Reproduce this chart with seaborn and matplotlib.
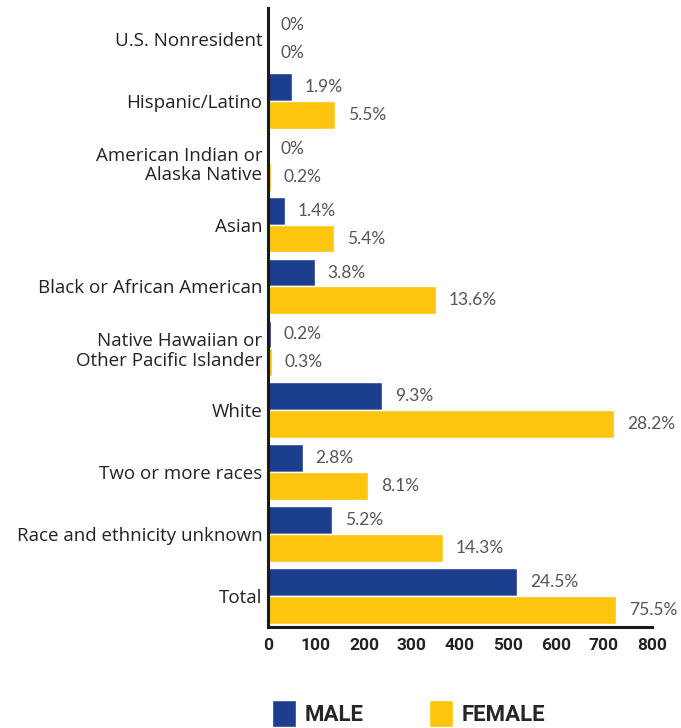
import matplotlib
matplotlib.use('Agg')
import matplotlib.pyplot as plt
from matplotlib.patches import Patch
import seaborn as sns
import pandas as pd

categories = ['U.S. Nonresident', 'Hispanic/Latino', 'American Indian or\nAlaska Native',
              'Asian', 'Black or African American', 'Native Hawaiian or\nOther Pacific Islander',
              'White', 'Two or more races', 'Race and ethnicity unknown', 'Total']
male = [0, 50, 0, 36, 98, 6, 238, 73, 134, 520]
female = [0, 140, 6, 138, 351, 8, 722, 209, 365, 726]
male_pct = ['0%', '1.9%', '0%', '1.4%', '3.8%', '0.2%', '9.3%', '2.8%', '5.2%', '24.5%']
female_pct = ['0%', '5.5%', '0.2%', '5.4%', '13.6%', '0.3%', '28.2%', '8.1%', '14.3%', '75.5%']
x_ticks = [0, 100, 200, 300, 400, 500, 600, 700, 800]

df = pd.DataFrame({
    'Group': categories * 2,
    'Count': male + female,
    'Sex': ['MALE'] * len(male) + ['FEMALE'] * len(female),
})

sns.set_style('white')
plt.rcParams['font.family'] = ['Open Sans', 'DejaVu Sans']

colors = {'MALE': '#1B3E8F', 'FEMALE': '#FEC50E'}

fig = plt.figure(figsize=(6.81, 7.28), dpi=100)
ax = fig.add_axes([0.3935, 0.139, 0.5635, 0.85])

sns.barplot(data=df, y='Group', x='Count', hue='Sex', palette=colors,
            width=0.9, orient='h', legend=False, ax=ax, saturation=1)

for cont, labels in zip(ax.containers, [male_pct, female_pct]):
    ax.bar_label(cont, labels=labels, padding=9, fontsize=12.5, color='#555555',
                 family=['Lato', 'DejaVu Sans'])

ax.set_xlim(0, 800)
ax.set_ylim(9.5, -0.5)
ax.set_xticks(x_ticks)
ax.set_xticklabels([str(t) for t in x_ticks], fontsize=12.5, fontweight='bold',
                   color='#222222', family=['Roboto', 'DejaVu Sans'])
ax.set_xlabel('')
ax.set_ylabel('')
ax.tick_params(axis='both', length=0)
ax.tick_params(axis='y', pad=4, labelsize=13.5, labelcolor='#222222')
ax.tick_params(axis='x', pad=8)
for lbl in ax.get_yticklabels():
    lbl.set_multialignment('right')
    lbl.set_linespacing(1.1)

sns.despine(ax=ax)
for side in ['left', 'bottom']:
    ax.spines[side].set_color('#1a1a1a')
    ax.spines[side].set_linewidth(2.2)

handles = [Patch(facecolor=colors['MALE'], label='MALE'),
           Patch(facecolor=colors['FEMALE'], label='FEMALE')]
fig.legend(handles=handles, loc='lower center', bbox_to_anchor=(0.6, -0.026), ncol=2,
           frameon=False, handlelength=1.1, handleheight=1.5, columnspacing=2.9,
           handletextpad=0.4, prop={'family': 'Roboto', 'weight': 'bold', 'size': 16})

fig.savefig('out.png', dpi=100)
